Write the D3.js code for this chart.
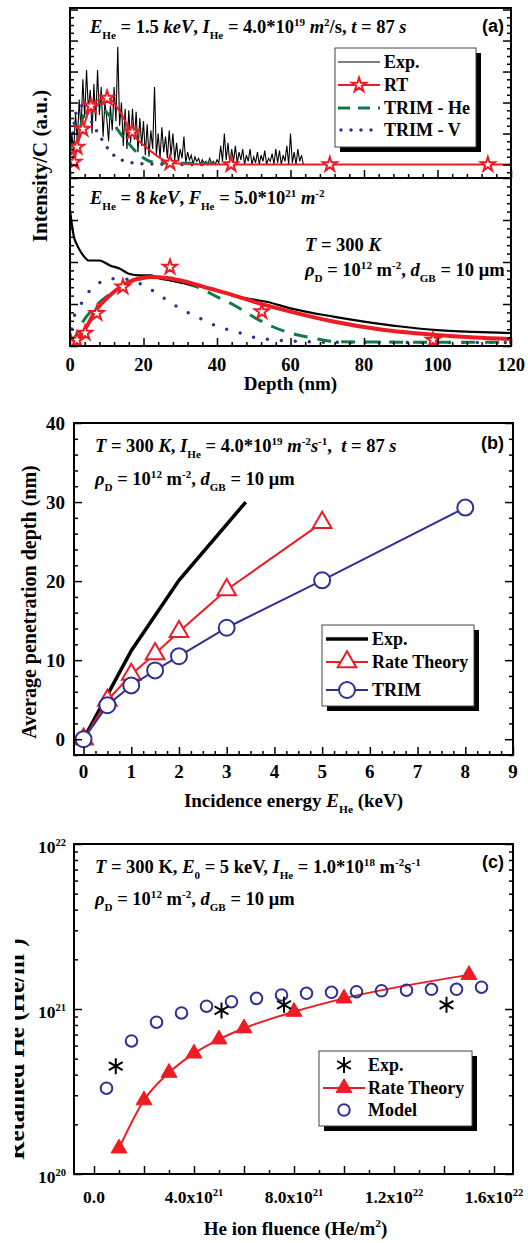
<!DOCTYPE html>
<html><head><meta charset="utf-8">
<script src="https://cdn.jsdelivr.net/npm/d3@7"></script>
<style>
html,body{margin:0;padding:0;background:#fff;}
svg{display:block;}
text{font-family:"Liberation Serif","Times New Roman",serif;font-weight:bold;white-space:pre;}
</style></head><body>
<svg id="fig" width="528" height="1243"></svg>
<script>
// ---------- Panel (a), upper: E = 1.5 keV ----------
const expA1Depth = [0,0.5,1,1.5,2,2.5,3,3.5,4,4.5,5,5.5,6,6.5,7,7.5,8,8.5,9,9.5,10,10.5,11,11.5,12,12.5,13,13.5,14,14.5,15,15.5,16,16.5,17,17.5,18,18.5,19,19.5,20,20.5,21,21.5,22,22.5,23,23.5,24,24.5,25,25.5,26,26.5,27,27.5,28,28.5,29,29.5,30,30.5,31,31.5,32,32.5,33,33.5,34,34.5,35,35.5,36,36.5,37,37.5,38,38.5,39,39.5,40,40.5,41,41.5,42,42.5,43,43.5,44,44.5,45,45.5,46,46.5,47,47.5,48,48.5,49,49.5,50,50.5,51,51.5,52,52.5,53,53.5,54,54.5,55,55.5,56,56.5,57,57.5,58,58.5,59,59.5,60,60.5,61,61.5,62,62.5,63,63.5];
const expA1 = [0.03,0.20,0.08,0.33,0.15,0.42, 0.22,0.55,0.30,0.61,0.35,0.48, 0.20,0.52,0.28,0.61,0.32,0.50,
  0.18,0.40,0.30,0.15,0.38,0.22, 0.50,0.28,0.76,0.25,0.40,0.12, 0.36,0.10,0.35,0.14,0.36,0.16,
  0.34,0.08,0.30,0.12,0.28,0.06, 0.26,0.05,0.22,0.10,0.50,0.06, 0.20,0.04,0.24,0.08,0.18,0.04,
  0.22,0.06,0.20,0.03,0.14,0.02, 0.10,0.04,0.18,0.01,0.08,0.03, 0.06,0.00,0.05,0.02,0.04,0.00,
  0.03,0.01,0.02,0.00,0.04,0.01, 0.02,0.00,0.03,0.01,0.12,0.02, 0.20,0.03,0.14,0.00,0.10,0.02,
  0.12,0.01,0.08,0.03,0.10,0.00, 0.06,0.02,0.10,0.00,0.05,0.01, 0.08,0.00,0.06,0.02,0.09,0.00,
  0.04,0.02,0.07,0.00,0.10,0.01, 0.09,0.00,0.06,0.02,0.12,0.00, 0.20,0.01,0.08,0.00,0.10,0.02,
  0.06,0.00];
const rtA1Depth = [0,1.1,1.9,3.5,5.7,8,10.3,13.6,16.9,21,24.5,28,35,45,120];
const rtA1 = [0,0.016,0.113,0.229,0.377,0.42,0.43,0.34,0.2,0.106,0.042,0.01,0.002,0,0];
const rtStarA1Depth = [1.1,1.9,3.5,5.7,10.1,16.9,27.2,43.8,70.7,113.7];
const rtStarA1 = [0.016,0.113,0.229,0.377,0.429,0.21,0.01,0,0,0];
const trimHeA1Depth = [0,0.8,2.2,3.5,5,6.5,8.2,10.9,13.1,15.8,19,22.6,27.2,33.5,38.9];
const trimHeA1 = [0,0.03,0.158,0.306,0.37,0.39,0.37,0.31,0.22,0.14,0.06,0.016,0.01,0.008,0.005];
const trimVA1Depth = [0,0.5,1.1,1.6,2.5,3.5,5,6.3,8.2,10.4,12.7,15.8,19,25,36];
const trimVA1 = [0.01,0.14,0.26,0.33,0.37,0.38,0.32,0.255,0.18,0.1,0.044,0.018,0.005,0.002,0];

// ---------- Panel (a), lower: E = 8 keV ----------
const expA2Depth = [0,0.5,1,2,3,4,5,6.7,8,10.9,13.6,16,19,22,24.5,27.2,31.5,36,40,44,48,53.5,60,71.6,80,90,99,110,120];
const expA2 = [0.81,0.72,0.65,0.59,0.55,0.52,0.50,0.50,0.50,0.47,0.45,0.42,0.41,0.41,0.39,0.38,0.36,0.34,0.32,0.29,0.27,0.25,0.21,0.16,0.13,0.10,0.08,0.067,0.06];
const rtA2Depth = [0,1.4,4,6.8,10.9,14.5,18.2,22.2,26.3,31.8,38,44.4,50.8,53.5,60,71.6,85,98.8,110,120];
const rtA2 = [0,0.018,0.08,0.19,0.29,0.35,0.388,0.40,0.394,0.37,0.33,0.29,0.245,0.228,0.19,0.13,0.08,0.05,0.033,0.024];
const rtStarA2Depth = [0.3,1.9,4.1,7.3,14.4,27.2,52.2,98.8];
const rtStarA2 = [0.0,0.018,0.06,0.18,0.34,0.46,0.19,0.018];
const trimHeA2Depth = [0,1.4,2.7,7.3,11.8,16.9,22.6,28,34.5,40,45.4,49.8,55,60,66,71.6,80,100,120];
const trimHeA2 = [0,0.036,0.097,0.23,0.31,0.37,0.40,0.38,0.34,0.28,0.22,0.16,0.10,0.06,0.03,0.01,0.006,0.005,0.005];
const trimVA2Depth = [0,1,2.2,4.1,7.7,11.4,14,19,23,26.7,30.7,34.5,38.6,42.4,46.3,49.8,55,62,70,120];
const trimVA2 = [0,0.15,0.2,0.28,0.36,0.39,0.39,0.36,0.31,0.255,0.2,0.16,0.115,0.085,0.06,0.036,0.02,0.01,0.005,0.003];
const depthTicks = [0,20,40,60,80,100,120];

// ---------- Panel (b): penetration depth vs energy ----------
const expBEnergy = [0,0.5,1,2,3.4];
const expBDepth = [0,5.6,11.2,20.1,30];
const rtBEnergy = [0,0.5,1,1.5,2,3,5];
const rtBDepth = [0,4.9,8.2,10.8,13.6,18.9,27.4];
const trimBEnergy = [0,0.5,1,1.5,2,3,5,8];
const trimBDepth = [0,4.3,6.8,8.7,10.5,14.1,20.1,29.3];
const energyTicks = [0,1,2,3,4,5,6,7,8,9];
const penTicks = [0,10,20,30,40];

// ---------- Panel (c): retained He vs fluence ----------
const expCFluence = [0.87e21,5.1e21,7.6e21,1.41e22];
const expCRetained = [4.5e20,9.8e20,1.06e21,1.06e21];
const rtCFluence = [1e21,2e21,3e21,4e21,5e21,6e21,8e21,1e22,1.5e22];
const rtCRetained = [1.43e20,2.8e20,4.11e20,5.38e20,6.55e20,7.64e20,9.63e20,1.16e21,1.61e21];
const modelCFluence = [0.5e21,1.5e21,2.5e21,3.5e21,4.5e21,5.5e21,6.5e21,7.5e21,8.5e21,9.5e21,10.5e21,11.5e21,12.5e21,13.5e21,14.5e21,15.5e21];
const modelCRetained = [3.31e20,6.4e20,8.32e20,9.46e20,1.04e21,1.107e21,1.16e21,1.216e21,1.245e21,1.262e21,1.273e21,1.29e21,1.30e21,1.316e21,1.316e21,1.355e21];
const fluenceTickVals = [0,4e21,8e21,1.2e22,1.6e22];
const fluenceTickText = [["0.0",""],["4.0x10","21"],["8.0x10","21"],["1.2x10","22"],["1.6x10","22"]];
const retainedTicks = [1e20,1e21,1e22];

const RED = "#ed1c24", BLUE = "#2e3192", GREEN = "#0f7a45";
const svg = d3.select("#fig");

// text with italic / subscript / superscript runs: kinds "i", "b" (sub), "p" (sup)
function rich(parent, x, y, parts, fs, anchor) {
  const t = parent.append("text").attr("x", x).attr("y", y).attr("font-size", fs)
    .attr("text-anchor", anchor || "start");
  let cur = 0;
  parts.forEach(([s, k]) => {
    let off = 0, size = fs;
    if (k.includes("b")) { off = 0.32 * fs; size = 0.6 * fs; }
    if (k.includes("p")) { off = -0.4 * fs; size = 0.6 * fs; }
    const ts = t.append("tspan").text(s).attr("dy", off - cur).attr("font-size", size);
    if (k.includes("i")) ts.attr("font-style", "italic");
    cur = off;
  });
  return t;
}

function tickAxis(axisFn, scale, vals, len, tx, ty) {
  const g = svg.append("g").attr("transform", `translate(${tx},${ty})`)
    .call(axisFn(scale).tickValues(vals).tickSize(-len).tickFormat(""));
  g.select(".domain").remove();
  g.selectAll("line").attr("stroke", "#000").attr("stroke-width", 1.5);
  return g;
}

function clip(id, x, y, w, h) {
  svg.append("clipPath").attr("id", id).append("rect").attr("x", x).attr("y", y).attr("width", w).attr("height", h);
  return svg.append("g").attr("clip-path", `url(#${id})`);
}

function pathLine(g, xs, ys, xScale, yScale, curve, attrs) {
  const line = d3.line().x(d => xScale(d[0])).y(d => yScale(d[1])).curve(curve);
  const p = g.append("path").datum(xs.map((x, i) => [x, ys[i]])).attr("d", line).attr("fill", "none");
  Object.entries(attrs).forEach(([k, v]) => p.attr(k, v));
  return p;
}

function symbols(g, xs, ys, xScale, yScale, type, size, stroke, fill, sw) {
  g.selectAll(null).data(xs.map((x, i) => [x, ys[i]])).enter().append("path")
    .attr("transform", d => `translate(${xScale(d[0])},${yScale(d[1])})`)
    .attr("d", d3.symbol().type(type).size(size))
    .attr("stroke", stroke).attr("fill", fill).attr("stroke-width", sw);
}

// asterisk marker (three crossing strokes)
const asterisk = {
  draw(ctx, size) {
    const r = Math.sqrt(size) / 2;
    for (let a = 0; a < 3; a++) {
      const t = Math.PI / 2 + a * Math.PI / 3;
      ctx.moveTo(r * Math.cos(t), r * Math.sin(t));
      ctx.lineTo(-r * Math.cos(t), -r * Math.sin(t));
    }
  }
};

function legendBox(x, y, w, h) {
  svg.append("rect").attr("x", x + 5).attr("y", y + 5).attr("width", w).attr("height", h).attr("fill", "#000");
  svg.append("rect").attr("x", x).attr("y", y).attr("width", w).attr("height", h)
    .attr("fill", "#fff").attr("stroke", "#444").attr("stroke-width", 1);
}

// ================= Panel (a) =================
const aL = 70, aR = 511, aT = 8, aM = 178, aB = 346;
const xA = d3.scaleLinear().domain([0, 120]).range([aL, aR]);
const yA1 = d3.scaleLinear().domain([-0.087, 1.01]).range([aM, aT]);
const yA2 = d3.scaleLinear().domain([-0.0182, 1.0]).range([aB, aM]);

const gA1 = clip("clipA1", aL, aT, aR - aL, aM - aT);
const gA2 = clip("clipA2", aL, aM, aR - aL, aB - aM);

// upper sub-panel
pathLine(gA1, expA1Depth, expA1, xA, yA1, d3.curveLinear, {stroke: "#000", "stroke-width": 1.1});
pathLine(gA1, trimVA1Depth, trimVA1, xA, yA1, d3.curveMonotoneX, {stroke: BLUE, "stroke-width": 3.5, "stroke-dasharray": "0 10", "stroke-linecap": "round"});
pathLine(gA1, trimHeA1Depth, trimHeA1, xA, yA1, d3.curveMonotoneX, {stroke: GREEN, "stroke-width": 3, "stroke-dasharray": "12 8"});
pathLine(gA1, rtA1Depth, rtA1, xA, yA1, d3.curveMonotoneX, {stroke: RED, "stroke-width": 2});
symbols(gA1, rtStarA1Depth, rtStarA1, xA, yA1, d3.symbolStar, 62, RED, "#fff", 2);

// lower sub-panel
pathLine(gA2, trimVA2Depth, trimVA2, xA, yA2, d3.curveMonotoneX, {stroke: BLUE, "stroke-width": 3.5, "stroke-dasharray": "0 14", "stroke-linecap": "round"});
pathLine(gA2, trimHeA2Depth, trimHeA2, xA, yA2, d3.curveMonotoneX, {stroke: GREEN, "stroke-width": 3, "stroke-dasharray": "14 10"});
pathLine(gA2, expA2Depth, expA2, xA, yA2, d3.curveMonotoneX, {stroke: "#000", "stroke-width": 2.2});
pathLine(gA2, rtA2Depth, rtA2, xA, yA2, d3.curveMonotoneX, {stroke: RED, "stroke-width": 4});
symbols(gA2, rtStarA2Depth, rtStarA2, xA, yA2, d3.symbolStar, 62, RED, "#fff", 2);

// ticks
const depthMinor = d3.range(0, 121, 4).filter(v => v % 20 !== 0);
[aM, aB].forEach(yb => {
  tickAxis(d3.axisBottom, xA, depthTicks, 8, 0, yb);
  tickAxis(d3.axisBottom, xA, depthMinor, 4, 0, yb);
});
const a1Major = [0, 0.2, 0.4, 0.6, 0.8, 1.0];
const a1Minor = d3.range(-0.05, 1.01, 0.05).filter(v => Math.abs(v / 0.2 - Math.round(v / 0.2)) > 1e-6);
const a2Step = (1.0 + 0.0182) / 20;
const a2All = d3.range(0, 21).map(i => -0.0182 + i * a2Step);
const a2Major = a2All.filter((v, i) => i % 5 === 0), a2Minor = a2All.filter((v, i) => i % 5 !== 0);
[[yA1, a1Major, a1Minor], [yA2, a2Major, a2Minor]].forEach(([s, maj, min]) => {
  tickAxis(d3.axisLeft, s, maj, 8, aL, 0); tickAxis(d3.axisLeft, s, min, 4, aL, 0);
  tickAxis(d3.axisRight, s, maj, 8, aR, 0); tickAxis(d3.axisRight, s, min, 4, aR, 0);
});
svg.append("rect").attr("x", aL).attr("y", aT).attr("width", aR - aL).attr("height", aB - aT)
  .attr("fill", "none").attr("stroke", "#000").attr("stroke-width", 2);
svg.append("line").attr("x1", aL).attr("x2", aR).attr("y1", aM).attr("y2", aM).attr("stroke", "#000").attr("stroke-width", 2);

depthTicks.forEach(v => svg.append("text").attr("x", xA(v)).attr("y", 371).attr("text-anchor", "middle").attr("font-size", 18.5).text(v));
svg.append("text").attr("x", (aL + aR) / 2).attr("y", 390).attr("text-anchor", "middle").attr("font-size", 19).text("Depth (nm)");
svg.append("text").attr("transform", "translate(47,166) rotate(-90)").attr("text-anchor", "middle").attr("font-size", 21).text("Intensity/C (a.u.)");

rich(svg, 90, 33, [["E","i"],["He","b"],[" = 1.5 ",""],["keV","i"],[", ",""],["I","i"],["He","b"],[" = 4.0*10",""],["19","p"],[" ",""],["m","i"],["2","p"],["/s, ",""],["t","i"],[" = 87 ",""],["s","i"]], 18.5);
svg.append("text").attr("x", 504).attr("y", 32).attr("text-anchor", "end").attr("font-size", 18)
  .style("font-family", "'Liberation Sans', Arial, sans-serif").text("(a)");
rich(svg, 90, 204, [["E","i"],["He","b"],[" = 8 ",""],["keV","i"],[", ",""],["F","i"],["He","b"],[" = 5.0*10",""],["21","p"],[" ",""],["m","i"],["-2","p"]], 18.5);
rich(svg, 305, 251, [["T","i"],[" = 300 ",""],["K","i"]], 18.5);
const rhoLine = [["ρ","i"],["D","b"],[" = 10",""],["12","p"],[" m",""],["-2","p"],[", ",""],["d","i"],["GB","b"],[" = 10 μm",""]];
rich(svg, 305, 276, rhoLine, 18.5);

// legend (a)
legendBox(335, 48, 141, 99);
const legA = [62, 85, 108, 130];
svg.append("line").attr("x1", 338).attr("x2", 380).attr("y1", legA[0]).attr("y2", legA[0]).attr("stroke", "#000").attr("stroke-width", 1.2);
svg.append("line").attr("x1", 338).attr("x2", 380).attr("y1", legA[1]).attr("y2", legA[1]).attr("stroke", RED).attr("stroke-width", 2);
svg.append("path").attr("transform", `translate(359,${legA[1]})`).attr("d", d3.symbol().type(d3.symbolStar).size(62)).attr("stroke", RED).attr("fill", "#fff").attr("stroke-width", 2);
svg.append("line").attr("x1", 338).attr("x2", 380).attr("y1", legA[2]).attr("y2", legA[2]).attr("stroke", GREEN).attr("stroke-width", 3).attr("stroke-dasharray", "12 8");
svg.append("line").attr("x1", 341).attr("x2", 380).attr("y1", legA[3]).attr("y2", legA[3]).attr("stroke", BLUE).attr("stroke-width", 3.5).attr("stroke-dasharray", "0 10").attr("stroke-linecap", "round");
["Exp.", "RT", "TRIM - He", "TRIM - V"].forEach((s, i) => svg.append("text").attr("x", 384).attr("y", legA[i] + 6).attr("font-size", 18).text(s));

// ================= Panel (b) =================
const bL = 74, bR = 513, bT = 423, bB = 755;
const xB = d3.scaleLinear().domain([-0.2, 9]).range([bL, bR]);
const yB = d3.scaleLinear().domain([-2, 40]).range([bB, bT]);
const gB = svg.append("g");
pathLine(gB, expBEnergy, expBDepth, xB, yB, d3.curveLinear, {stroke: "#000", "stroke-width": 3.5});
pathLine(gB, rtBEnergy, rtBDepth, xB, yB, d3.curveLinear, {stroke: RED, "stroke-width": 2});
symbols(gB, rtBEnergy, rtBDepth, xB, yB, d3.symbolTriangle, 150, RED, "#fff", 2);
pathLine(gB, trimBEnergy, trimBDepth, xB, yB, d3.curveLinear, {stroke: BLUE, "stroke-width": 2});
symbols(gB, trimBEnergy, trimBDepth, xB, yB, d3.symbolCircle, 200, BLUE, "#fff", 2);

const eMinor = d3.range(-0.0, 9.01, 0.25).filter(v => Math.abs(v - Math.round(v)) > 1e-6);
tickAxis(d3.axisBottom, xB, energyTicks, 8, 0, bB); tickAxis(d3.axisBottom, xB, eMinor, 4, 0, bB);
const pMinor = d3.range(-2, 40.1, 2).filter(v => v % 10 !== 0);
tickAxis(d3.axisLeft, yB, penTicks, 8, bL, 0); tickAxis(d3.axisLeft, yB, pMinor, 4, bL, 0);
tickAxis(d3.axisRight, yB, penTicks, 8, bR, 0); tickAxis(d3.axisRight, yB, pMinor, 4, bR, 0);
svg.append("rect").attr("x", bL).attr("y", bT).attr("width", bR - bL).attr("height", bB - bT)
  .attr("fill", "none").attr("stroke", "#000").attr("stroke-width", 2);
energyTicks.forEach(v => svg.append("text").attr("x", xB(v)).attr("y", 778).attr("text-anchor", "middle").attr("font-size", 19).text(v));
penTicks.forEach(v => svg.append("text").attr("x", 65).attr("y", yB(v) + 6.5).attr("text-anchor", "end").attr("font-size", 19).text(v));
rich(svg, (bL + bR) / 2, 807, [["Incidence energy ",""],["E","i"],["He","b"],[" (keV)",""]], 19, "middle");
svg.append("text").attr("transform", "translate(36,602) rotate(-90)").attr("text-anchor", "middle").attr("font-size", 20).text("Average penetration depth (nm)");
rich(svg, 95, 452, [["T","i"],[" = 300 ",""],["K","i"],[", ",""],["I","i"],["He","b"],[" = 4.0*10",""],["19","p"],[" ",""],["m","i"],["-2","p"],["s","i"],["-1","p"],[",  ",""],["t","i"],[" = 87 ",""],["s","i"]], 18.5);
rich(svg, 95, 485, rhoLine, 18.5);
svg.append("text").attr("x", 504).attr("y", 449).attr("text-anchor", "end").attr("font-size", 18)
  .style("font-family", "'Liberation Sans', Arial, sans-serif").text("(b)");

// legend (b)
legendBox(322, 625, 152, 81);
const legB = [639, 662, 690];
svg.append("line").attr("x1", 326).attr("x2", 368).attr("y1", legB[0]).attr("y2", legB[0]).attr("stroke", "#000").attr("stroke-width", 3.5);
svg.append("line").attr("x1", 326).attr("x2", 368).attr("y1", legB[1]).attr("y2", legB[1]).attr("stroke", RED).attr("stroke-width", 2);
svg.append("path").attr("transform", `translate(347,${legB[1]})`).attr("d", d3.symbol().type(d3.symbolTriangle).size(150)).attr("stroke", RED).attr("fill", "#fff").attr("stroke-width", 2);
svg.append("line").attr("x1", 326).attr("x2", 368).attr("y1", legB[2]).attr("y2", legB[2]).attr("stroke", BLUE).attr("stroke-width", 2);
svg.append("path").attr("transform", `translate(347,${legB[2]})`).attr("d", d3.symbol().type(d3.symbolCircle).size(200)).attr("stroke", BLUE).attr("fill", "#fff").attr("stroke-width", 2);
["Exp.", "Rate Theory", "TRIM"].forEach((s, i) => svg.append("text").attr("x", 372).attr("y", legB[i] + 6).attr("font-size", 18).text(s));

// ================= Panel (c) =================
const cL = 74, cR = 513, cT = 844, cB = 1174;
const xC = d3.scaleLinear().domain([-0.8e21, 1.676e22]).range([cL, cR]);
const yC = d3.scaleLog().domain([1e20, 1e22]).range([cB, cT]);
const gC = svg.append("g");
pathLine(gC, rtCFluence, rtCRetained, xC, yC, d3.curveMonotoneX, {stroke: RED, "stroke-width": 2});
symbols(gC, rtCFluence, rtCRetained, xC, yC, d3.symbolTriangle, 110, RED, RED, 1);
symbols(gC, modelCFluence, modelCRetained, xC, yC, d3.symbolCircle, 105, BLUE, "none", 2);
symbols(gC, expCFluence, expCRetained, xC, yC, asterisk, 256, "#000", "none", 2);

const fMajor = d3.range(0, 1.61e22, 2e21), fMinor = d3.range(1e21, 1.61e22, 2e21);
tickAxis(d3.axisBottom, xC, fMajor, 8, 0, cB); tickAxis(d3.axisBottom, xC, fMinor, 4, 0, cB);
const rMinor = [];
[1e20, 1e21].forEach(dec => [2,3,4,5,6,7,8,9].forEach(m => rMinor.push(dec * m)));
tickAxis(d3.axisLeft, yC, retainedTicks, 8, cL, 0); tickAxis(d3.axisLeft, yC, rMinor, 4, cL, 0);
tickAxis(d3.axisRight, yC, retainedTicks, 8, cR, 0); tickAxis(d3.axisRight, yC, rMinor, 4, cR, 0);
svg.append("rect").attr("x", cL).attr("y", cT).attr("width", cR - cL).attr("height", cB - cT)
  .attr("fill", "none").attr("stroke", "#000").attr("stroke-width", 2);
fluenceTickVals.forEach((v, i) => {
  const [m, e] = fluenceTickText[i];
  rich(svg, xC(v), 1203, e ? [[m, ""], [e, "p"]] : [[m, ""]], 17.5, "middle");
});
retainedTicks.forEach(v => rich(svg, 66, yC(v) + 8.5, [["10", ""], [String(Math.round(Math.log10(v))), "p"]], 17.5, "end"));
rich(svg, (cL + cR) / 2 + 2, 1235, [["He ion fluence (He/m",""],["2","p"],[")",""]], 19, "middle");
const gYC = clip("clipYC", 15, 880, 80, 320);
rich(gYC, 0, 0, [["Retained He (He/m",""],["2","p"],[")",""]], 25, "middle").attr("transform", "translate(23.5,1049) rotate(-90)");
rich(svg, 95, 873, [["T","i"],[" = 300 K, ",""],["E","i"],["0","b"],[" = 5 keV, ",""],["I","i"],["He","b"],[" = 1.0*10",""],["18","p"],[" m",""],["-2","p"],["s",""],["-1","p"]], 18.5);
rich(svg, 95, 905, rhoLine, 18.5);
svg.append("text").attr("x", 504).attr("y", 868).attr("text-anchor", "end").attr("font-size", 18)
  .style("font-family", "'Liberation Sans', Arial, sans-serif").text("(c)");

// legend (c)
legendBox(319, 1051, 153, 75);
const legC = [1065, 1088, 1110];
svg.append("path").attr("transform", `translate(344,${legC[0]})`).attr("d", d3.symbol().type(asterisk).size(256)).attr("stroke", "#000").attr("fill", "none").attr("stroke-width", 2);
svg.append("line").attr("x1", 323).attr("x2", 365).attr("y1", legC[1]).attr("y2", legC[1]).attr("stroke", RED).attr("stroke-width", 2);
svg.append("path").attr("transform", `translate(344,${legC[1]})`).attr("d", d3.symbol().type(d3.symbolTriangle).size(110)).attr("stroke", RED).attr("fill", RED);
svg.append("path").attr("transform", `translate(344,${legC[2]})`).attr("d", d3.symbol().type(d3.symbolCircle).size(105)).attr("stroke", BLUE).attr("fill", "none").attr("stroke-width", 2);
["Exp.", "Rate Theory", "Model"].forEach((s, i) => svg.append("text").attr("x", 368).attr("y", legC[i] + 6).attr("font-size", 18).text(s));
</script>
</body></html>
